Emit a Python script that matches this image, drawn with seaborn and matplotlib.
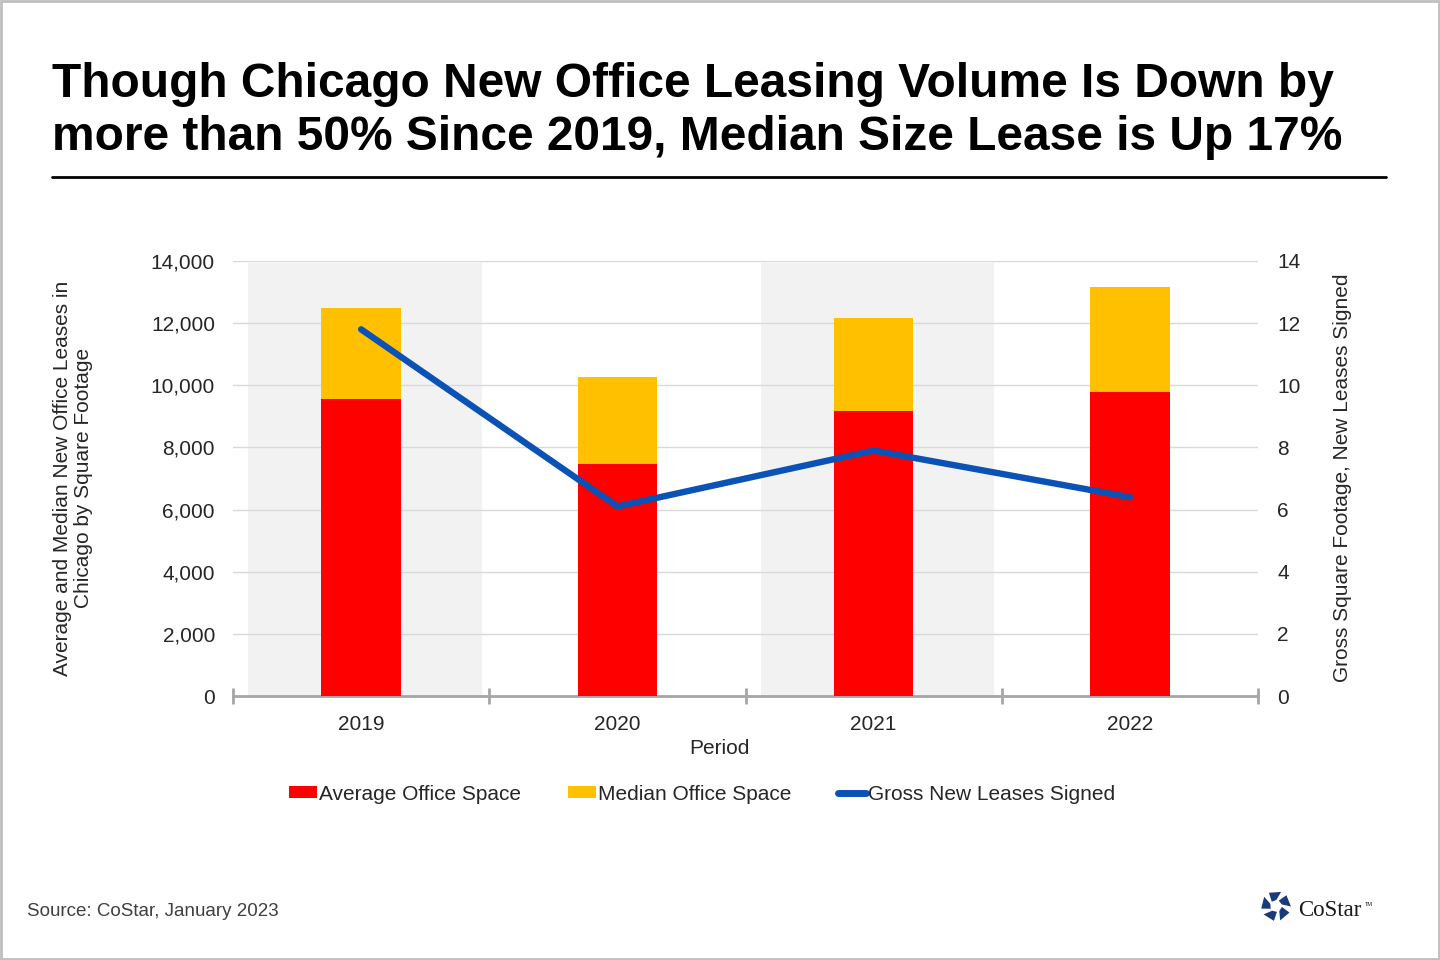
import numpy as np
import pandas as pd
import matplotlib
matplotlib.use("Agg")
import matplotlib.pyplot as plt
import seaborn as sns
from matplotlib.patches import Patch, Rectangle, Polygon
from matplotlib.lines import Line2D

# data
periods = ["2019", "2020", "2021", "2022"]
avg_space = [9560, 7470, 9170, 9780]
median_space = [2930, 2800, 3000, 3380]
gross_leases = [11.8, 6.1, 7.9, 6.4]

RED = "#FF0000"
YELLOW = "#FFC000"
BLUE = "#0A52B5"
GRID = "#D9D9D9"
AXIS_GRAY = "#A6A6A6"
TXT = "#262626"

df = pd.DataFrame({
    "Period": periods,
    "Average": avg_space,
    "Median": median_space,
    "Leases": gross_leases,
})
df["Total"] = df["Average"] + df["Median"]

sns.set_theme(style="white")
plt.rcParams["font.family"] = ["Liberation Sans", "DejaVu Sans"]

W, H = 1440, 960
fig = plt.figure(figsize=(14.4, 9.6), dpi=100)
ax = fig.add_axes([233 / W, 1 - 696 / H, (1258 - 233) / W, (696 - 261) / H])

# alternating shaded bands behind 2019 and 2021
for i in (0, 2):
    ax.axvspan(i - 0.44, i + 0.47, ymin=0, ymax=0.995, color="#F2F2F2", zorder=0.2, lw=0)

# stacked bars: total (yellow) first, average (red) on top of it
sns.barplot(data=df, x="Period", y="Total", color=YELLOW, width=0.31,
            saturation=1, linewidth=0, ax=ax, zorder=3)
sns.barplot(data=df, x="Period", y="Average", color=RED, width=0.31,
            saturation=1, linewidth=0, ax=ax, zorder=4)

ax.set_xlim(-0.5, 3.5)
ax.set_ylim(0, 14000)
ax.set_yticks(np.arange(0, 14001, 2000))
ax.set_yticklabels([f"{v:,}" for v in range(0, 14001, 2000)])
ax.set_axisbelow(True)
ax.yaxis.grid(True, color=GRID, lw=1)
ax.xaxis.grid(False)
for s in ("left", "right", "top"):
    ax.spines[s].set_visible(False)
ax.spines["bottom"].set_color(AXIS_GRAY)
ax.spines["bottom"].set_linewidth(2)

ax.set_xticks(range(len(periods)))
ax.set_xticklabels(periods)
ax.set_xticks(np.arange(-0.5, 3.6, 1.0), minor=True)
ax.tick_params(axis="x", which="major", direction="in", length=5, width=1.5,
               color=AXIS_GRAY, labelsize=15, labelcolor=TXT, pad=14, bottom=True)
ax.tick_params(axis="x", which="minor", direction="inout", length=12, width=2,
               color=AXIS_GRAY, bottom=True)
ax.tick_params(axis="y", length=0, labelsize=15, labelcolor=TXT, pad=13)
ax.set_ylabel("")
ax.set_xlabel("")

# line on secondary axis
ax2 = ax.twinx()
sns.lineplot(x=np.arange(len(periods)), y=df["Leases"], ax=ax2, color=BLUE,
             lw=4.6, solid_capstyle="round", solid_joinstyle="miter", zorder=5)
ax2.set_ylim(0, 14)
ax2.set_yticks(np.arange(0, 15, 2))
ax2.set_ylabel("")
ax2.tick_params(axis="y", length=0, labelsize=15, labelcolor=TXT, pad=14)
for s in ax2.spines.values():
    s.set_visible(False)
ax2.grid(False)
ax.set_xlim(-0.5, 3.5)

# axis titles
fig.text(719 / W, 1 - 748 / H, "Period", ha="center", va="center",
         fontsize=15, color=TXT)
fig.text(73 / W, 1 - 478 / H,
         "Average and Median New Office Leases in\nChicago by Square Footage",
         rotation=90, ha="center", va="center", fontsize=15, color=TXT,
         multialignment="center", linespacing=1.1)
fig.text(1343 / W, 1 - 478 / H, "Gross Square Footage, New Leases Signed",
         rotation=90, ha="center", va="center", fontsize=15, color=TXT)

# legend
handles = [
    Patch(facecolor=RED, edgecolor="none"),
    Patch(facecolor=YELLOW, edgecolor="none"),
    Line2D([0], [0], color=BLUE, lw=5, solid_capstyle="round"),
]
labels = ["Average Office Space", "Median Office Space", "Gross New Leases Signed"]
fig.legend(handles, labels, loc="center", bbox_to_anchor=(702 / W, 1 - 794 / H),
           ncol=3, frameon=False, fontsize=15, handlelength=1.35, handleheight=0.45,
           handletextpad=0.08, columnspacing=2.25, labelcolor=TXT)

# title block
fig.text(52 / W, 1 - 97 / H,
         "Though Chicago New Office Leasing Volume Is Down by",
         fontsize=34.5, fontweight="bold", color="black", va="baseline")
fig.text(52 / W, 1 - 150 / H,
         "more than 50% Since 2019, Median Size Lease is Up 17%",
         fontsize=34.5, fontweight="bold", color="black", va="baseline")
fig.add_artist(Line2D([52 / W, 1386 / W], [1 - 177 / H, 1 - 177 / H],
                      color="black", lw=2, transform=fig.transFigure))

# footer
fig.text(27 / W, 1 - 916 / H, "Source: CoStar, January 2023", fontsize=13.5,
         color="#404040", va="baseline")

# rough CoStar logo mark
cx, cy, r_out, r_in = 1276, 906, 15, 6
for k in range(5):
    a = np.deg2rad(90 + 72 * k)
    a1, a2 = a - np.deg2rad(20), a + np.deg2rad(28)
    pts = [
        (cx + r_out * np.cos(a1), cy - r_out * np.sin(a1)),
        (cx + r_out * np.cos(a2), cy - r_out * np.sin(a2)),
        (cx + r_in * np.cos(a2 + 0.3), cy - r_in * np.sin(a2 + 0.3)),
        (cx + r_in * np.cos(a1 + 0.3), cy - r_in * np.sin(a1 + 0.3)),
    ]
    pts = [(x / W, 1 - y / H) for x, y in pts]
    fig.add_artist(Polygon(pts, closed=True, facecolor="#1B3A7A",
                           edgecolor="none", transform=fig.transFigure))
fig.text(1298 / W, 1 - 916 / H, "CoStar", fontsize=16.5, color="#1a1a1a",
         family=["Liberation Serif", "DejaVu Serif"], va="baseline")
fig.text(1365 / W, 1 - 906 / H, "TM", fontsize=4, color="#1a1a1a", va="baseline")

# thin frame around the whole picture
fig.add_artist(Rectangle((0.001, 0.001), 0.998, 0.998, transform=fig.transFigure,
                         fill=False, edgecolor="#BFBFBF", lw=2))

fig.savefig("out.png", dpi=100)
plt.close(fig)
